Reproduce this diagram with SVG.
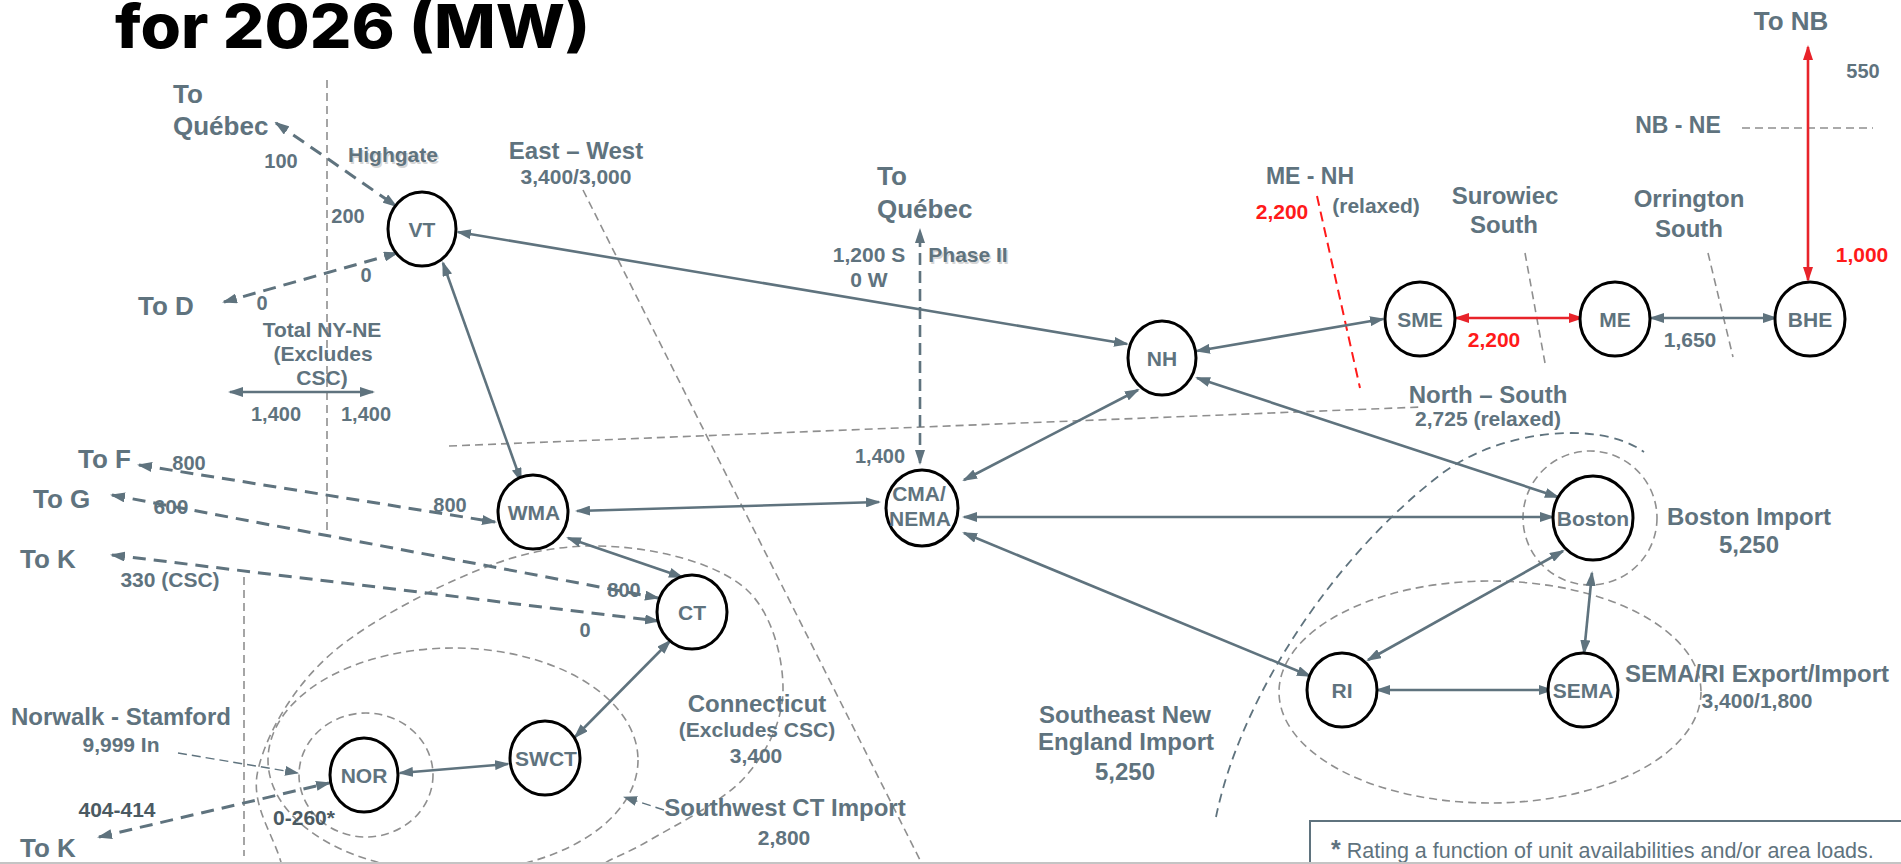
<svg xmlns="http://www.w3.org/2000/svg" width="1901" height="864" viewBox="0 0 1901 864">
<defs>
<style>
.t{font-family:"Liberation Sans",Arial,sans-serif;font-weight:bold;fill:#5f737e;text-anchor:middle}
.s{text-anchor:start}
.dk{fill:#4b5a62}
.red{fill:#ff1a1a}
.sh{fill:#d6d6d6}
.node ellipse{fill:#fff;stroke:#000;stroke-width:3}
.node text{font-size:21px}
.c{stroke:#5f737e;stroke-width:2.6;fill:none;marker-start:url(#ah);marker-end:url(#ah)}
.d{stroke-dasharray:13 8;stroke-width:3}
.r{stroke:#e8232a;marker-start:url(#ahr);marker-end:url(#ahr)}
.thin{stroke:#5f737e;stroke-width:1.4;fill:none;stroke-dasharray:9 5;marker-end:url(#ahs)}
.g{stroke:#8f8f8f;stroke-width:1.6;fill:none;stroke-dasharray:8 5}
</style>
<marker id="ah" viewBox="0 0 15 10" refX="13" refY="5" markerWidth="15" markerHeight="10" markerUnits="userSpaceOnUse" orient="auto-start-reverse"><path d="M0,0 L15,5 L0,10 z" fill="#5f737e"/></marker>
<marker id="ahr" viewBox="0 0 15 10" refX="13" refY="5" markerWidth="15" markerHeight="10" markerUnits="userSpaceOnUse" orient="auto-start-reverse"><path d="M0,0 L15,5 L0,10 z" fill="#e8232a"/></marker>
<marker id="ahs" viewBox="0 0 14 10" refX="13" refY="5" markerWidth="14" markerHeight="10" markerUnits="userSpaceOnUse" orient="auto"><path d="M0,0 L14,5 L0,10 z" fill="#5f737e"/></marker>
</defs>
<rect width="1901" height="864" fill="#fff"/>

<!-- title -->
<text x="115" y="48" font-family="Inter,'Liberation Sans',sans-serif" font-weight="800" font-size="61" fill="#000" textLength="475" lengthAdjust="spacingAndGlyphs">for 2026 (MW)</text>

<!-- interface boundaries -->
<g id="boundaries">
<line class="g" x1="327" y1="80" x2="327" y2="533"/>
<line class="g" x1="244" y1="577" x2="244" y2="856"/>
<line class="g" x1="583" y1="190" x2="922" y2="864"/>
<line class="g" x1="449" y1="446" x2="1421" y2="407"/>
<line class="g" x1="1525" y1="253" x2="1545" y2="363"/>
<line class="g" x1="1708" y1="253" x2="1733" y2="357"/>
<line class="g" x1="1742" y1="128" x2="1873" y2="128"/>
<line x1="1317" y1="196" x2="1360" y2="388" stroke="#ff1a1a" stroke-width="2" stroke-dasharray="10 6"/>
<ellipse class="g" cx="366" cy="775" rx="67" ry="62"/>
<ellipse class="g" cx="453" cy="760" rx="185" ry="112"/>
<path class="g" d="M282,866 C274,834 249.7,805.5 258,770 C266.3,734.5 292.2,687.5 332,653 C371.8,618.5 447.3,580.5 497,563 C546.7,545.5 588.3,543.5 630,548 C671.7,552.5 721.5,566.3 747,590 C772.5,613.7 783.3,658.8 783,690 C782.7,721.2 767.2,752 745,777 C722.8,802 674.2,825.7 650,840 C625.8,854.3 616.7,855.3 600,866"/>
<circle class="g" cx="1590" cy="518" r="67"/>
<ellipse class="g" cx="1490" cy="692" rx="211" ry="111"/>
<path d="M1216,817 C1240,700 1330,560 1440,475 C1500,429 1600,420 1644,452" fill="none" stroke="#5f737e" stroke-width="1.8" stroke-dasharray="9 6"/>
</g>

<!-- connectors -->
<g id="connectors">
<line class="c" x1="458" y1="232" x2="1127" y2="344"/>
<line class="c" x1="443" y1="263" x2="521" y2="481"/>
<line class="c" x1="577" y1="511" x2="879" y2="502"/>
<line class="c" x1="568" y1="538" x2="682" y2="577"/>
<line class="c" x1="670" y1="641" x2="575" y2="737"/>
<line class="c" x1="400" y1="773" x2="508" y2="764"/>
<line class="c" x1="1138" y1="390" x2="964" y2="480"/>
<line class="c" x1="1197" y1="351" x2="1383" y2="319"/>
<line class="c" x1="1197" y1="378" x2="1558" y2="497"/>
<line class="c" x1="964" y1="517" x2="1553" y2="517"/>
<line class="c" x1="964" y1="533" x2="1310" y2="676"/>
<line class="c" x1="1563" y1="551" x2="1368" y2="660"/>
<line class="c" x1="1592" y1="573" x2="1584" y2="653"/>
<line class="c" x1="1377" y1="690" x2="1552" y2="690"/>
<line class="c r" x1="1456" y1="318" x2="1582" y2="318" stroke-width="3"/>
<line class="c" x1="1651" y1="318" x2="1776" y2="318"/>
<line class="c r" x1="1808" y1="280" x2="1808" y2="47" stroke-width="2.2"/>
<line class="c" x1="230" y1="392" x2="373" y2="392" stroke-width="3"/>
<line class="c d" x1="276" y1="123" x2="396" y2="206"/>
<line class="c d" x1="397" y1="253" x2="224" y2="302"/>
<line class="c" x1="920" y1="463" x2="920" y2="230" stroke-dasharray="12 6"/>
<line class="c d" x1="139" y1="465" x2="495" y2="522"/>
<line class="c d" x1="112" y1="495" x2="658" y2="598"/>
<line class="c d" x1="112" y1="555" x2="658" y2="621"/>
<line class="c d" x1="99" y1="837" x2="329" y2="783"/>
<line class="thin" x1="178" y1="753" x2="298" y2="773"/>
<line class="thin" x1="664" y1="810" x2="624" y2="797"/>
</g>

<!-- nodes -->
<g id="VT" class="node"><ellipse cx="422" cy="229" rx="34" ry="37"/><text class="t" x="422" y="237">VT</text></g>
<g id="NH" class="node"><ellipse cx="1162" cy="358" rx="34" ry="37"/><text class="t" x="1162" y="366">NH</text></g>
<g id="SME" class="node"><ellipse cx="1420" cy="319" rx="35" ry="37"/><text class="t" x="1420" y="327">SME</text></g>
<g id="ME" class="node"><ellipse cx="1615" cy="319" rx="35" ry="37"/><text class="t" x="1615" y="327">ME</text></g>
<g id="BHE" class="node"><ellipse cx="1810" cy="319" rx="35" ry="37"/><text class="t" x="1810" y="327">BHE</text></g>
<g id="WMA" class="node"><ellipse cx="533" cy="512" rx="35" ry="37"/><text class="t" x="534" y="520">WMA</text></g>
<g id="CMA_NEMA" class="node"><ellipse cx="922" cy="508" rx="36" ry="38"/><text class="t" x="919" y="501">CMA/</text><text class="t" x="920" y="526">NEMA</text></g>
<g id="CT" class="node"><ellipse cx="692" cy="612" rx="35" ry="37"/><text class="t" x="692" y="620">CT</text></g>
<g id="Boston" class="node"><ellipse cx="1593" cy="518" rx="40" ry="42"/><text class="t" x="1593" y="526">Boston</text></g>
<g id="RI" class="node"><ellipse cx="1342" cy="690" rx="35" ry="37"/><text class="t" x="1342" y="698">RI</text></g>
<g id="SEMA" class="node"><ellipse cx="1583" cy="690" rx="35" ry="37"/><text class="t" x="1583" y="698">SEMA</text></g>
<g id="NOR" class="node"><ellipse cx="364" cy="775" rx="34" ry="37"/><text class="t" x="364" y="783">NOR</text></g>
<g id="SWCT" class="node"><ellipse cx="545" cy="758" rx="35" ry="37"/><text class="t" x="546" y="766">SWCT</text></g>

<!-- labels -->
<g id="labels">
<text class="t s" x="173" y="103" font-size="26">To</text>
<text class="t s" x="173" y="135" font-size="26">Québec</text>
<text class="t" x="281" y="168" font-size="20">100</text>
<text class="t sh" x="394.5" y="163.5" font-size="21">Highgate</text>
<text class="t" x="393" y="162" font-size="21">Highgate</text>
<text class="t" x="348" y="223" font-size="20">200</text>
<text class="t" x="366" y="282" font-size="20">0</text>
<text class="t s" x="138" y="315" font-size="26">To D</text>
<text class="t" x="262" y="310" font-size="20">0</text>
<text class="t" x="322" y="337" font-size="21">Total NY-NE</text>
<text class="t" x="323" y="361" font-size="21">(Excludes</text>
<text class="t" x="322" y="385" font-size="21">CSC)</text>
<text class="t" x="276" y="421" font-size="20">1,400</text>
<text class="t" x="366" y="421" font-size="20">1,400</text>
<text class="t" x="576" y="159" font-size="24">East – West</text>
<text class="t" x="576" y="184" font-size="21">3,400/3,000</text>
<text class="t s" x="877" y="185" font-size="26">To</text>
<text class="t s" x="877" y="218" font-size="26">Québec</text>
<text class="t" x="869" y="262" font-size="21">1,200 S</text>
<text class="t" x="869" y="287" font-size="21">0 W</text>
<text class="t sh" x="969.5" y="263.5" font-size="21">Phase II</text>
<text class="t" x="968" y="262" font-size="21">Phase II</text>
<text class="t" x="880" y="463" font-size="20">1,400</text>
<text class="t" x="1310" y="184" font-size="23">ME - NH</text>
<text class="t red" x="1282" y="219" font-size="21">2,200</text>
<text class="t" x="1376" y="213" font-size="21">(relaxed)</text>
<text class="t" x="1505" y="204" font-size="24">Surowiec</text>
<text class="t" x="1504" y="233" font-size="24">South</text>
<text class="t" x="1689" y="207" font-size="24">Orrington</text>
<text class="t" x="1689" y="237" font-size="24">South</text>
<text class="t" x="1791" y="30" font-size="26">To NB</text>
<text class="t" x="1863" y="78" font-size="20">550</text>
<text class="t" x="1678" y="133" font-size="23">NB - NE</text>
<text class="t red" x="1862" y="262" font-size="21">1,000</text>
<text class="t red" x="1494" y="347" font-size="21">2,200</text>
<text class="t" x="1690" y="347" font-size="21">1,650</text>
<text class="t" x="1488" y="403" font-size="24">North – South</text>
<text class="t" x="1488" y="426" font-size="21">2,725 (relaxed)</text>
<text class="t" x="1749" y="525" font-size="24">Boston Import</text>
<text class="t" x="1749" y="553" font-size="24">5,250</text>
<text class="t" x="1757" y="682" font-size="24">SEMA/RI Export/Import</text>
<text class="t" x="1757" y="708" font-size="21">3,400/1,800</text>
<text class="t" x="1125" y="723" font-size="24">Southeast New</text>
<text class="t" x="1126" y="750" font-size="24">England Import</text>
<text class="t" x="1125" y="780" font-size="24">5,250</text>
<text class="t" x="757" y="712" font-size="24">Connecticut</text>
<text class="t" x="757" y="737" font-size="21">(Excludes CSC)</text>
<text class="t" x="756" y="763" font-size="21">3,400</text>
<text class="t" x="785" y="816" font-size="24">Southwest CT Import</text>
<text class="t" x="784" y="845" font-size="21">2,800</text>
<text class="t s" x="78" y="468" font-size="26">To F</text>
<text class="t" x="189" y="470" font-size="20">800</text>
<text class="t s" x="33" y="508" font-size="26">To G</text>
<text class="t" x="171" y="514" font-size="21">600</text>
<text class="t" x="450" y="512" font-size="20">800</text>
<text class="t s" x="20" y="568" font-size="26">To K</text>
<text class="t" x="170" y="587" font-size="21">330 (CSC)</text>
<text class="t" x="624" y="597" font-size="20">800</text>
<text class="t" x="585" y="637" font-size="20">0</text>
<text class="t" x="121" y="725" font-size="24">Norwalk - Stamford</text>
<text class="t" x="121" y="752" font-size="21">9,999 In</text>
<text class="t dk" x="117" y="817" font-size="21">404-414</text>
<text class="t s" x="20" y="857" font-size="26">To K</text>
<text class="t dk" x="304" y="825" font-size="21">0-260*</text>
</g>

<!-- footer -->
<g id="footer">
<rect x="1310" y="821" width="600" height="60" fill="#fff" stroke="#5f737e" stroke-width="2"/>
<text x="1331" y="858" font-family="'Liberation Sans',Arial,sans-serif" font-size="21.5" fill="#5f737e"><tspan font-size="25" font-weight="bold">*</tspan> Rating a function of unit availabilities and/or area loads.</text>
</g>
<line x1="0" y1="863" x2="1901" y2="863" stroke="#c4c4c4" stroke-width="2"/>
</svg>
